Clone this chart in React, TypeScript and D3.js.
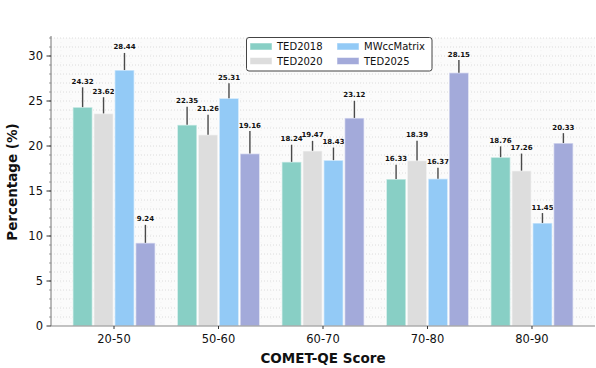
import * as d3 from "d3";

const categories = ["20-50", "50-60", "60-70", "70-80", "80-90"];
const seriesNames = ["TED2018", "TED2020", "MWccMatrix", "TED2025"];
const ted2018 = [24.32, 22.35, 18.24, 16.33, 18.76];
const ted2020 = [23.62, 21.26, 19.47, 18.39, 17.26];
const mwcc = [28.44, 25.31, 18.43, 16.37, 11.45];
const ted2025 = [9.24, 19.16, 23.12, 28.15, 20.33];
// error bar half-lengths (upper only visible)
const err2018 = [2.2, 2.0, 1.9, 1.6, 1.2];
const err2020 = [1.8, 2.2, 1.1, 2.2, 1.9];
const errMwcc = [1.9, 1.65, 1.4, 1.2, 1.1];
const err2025 = [2.0, 2.5, 1.9, 1.4, 1.1];
const yTicks = [0, 5, 10, 15, 20, 25, 30];

const values = [ted2018, ted2020, mwcc, ted2025];
const errors = [err2018, err2020, errMwcc, err2025];
const colors = ["#88cfc5", "#dddddd", "#93caf6", "#a3aada"];

const W = 596;
const H = 368;
const m = { left: 51, right: 595, top: 38, bottom: 326 };
const font = "DejaVu Sans, sans-serif";

export default function App() {
  const x = d3
    .scaleBand()
    .domain(categories)
    .range([m.left, m.right])
    .paddingInner(0)
    .paddingOuter(0.103);
  const xs = d3
    .scaleBand()
    .domain(seriesNames)
    .range([-42.5, 42.5])
    .padding(0.06);
  const y = d3.scaleLinear().domain([0, 32]).range([m.bottom, m.top]);
  const minor = d3.range(1, 33);

  return (
    <svg
      width={W}
      height={H}
      style={{ position: "absolute", left: 0, top: 0, background: "#fff" }}
      fontFamily={font}
    >
      <rect x={m.left} y={m.top} width={m.right - m.left} height={m.bottom - m.top} fill="#fbfbfb" />
      {/* dotted grid */}
      {minor.map((v) => (
        <line
          key={"g" + v}
          x1={m.left}
          x2={m.right}
          y1={y(v)}
          y2={y(v)}
          stroke="#d6d6d6"
          strokeWidth={0.8}
          strokeDasharray="1,2"
        />
      ))}
      {d3.range(m.left + 10, m.right, 10).map((gx) => (
        <line
          key={"v" + gx}
          x1={gx}
          x2={gx}
          y1={m.top}
          y2={m.bottom}
          stroke="#ececec"
          strokeWidth={0.6}
          strokeDasharray="1,3"
        />
      ))}

      {/* bars */}
      {categories.map((c, i) => {
        const cx = (x(c) as number) + x.bandwidth() / 2;
        return seriesNames.map((s, k) => {
          const v = values[k][i];
          const top = v + errors[k][i];
          const bx = cx + (xs(s) as number);
          const bw = xs.bandwidth();
          const mid = bx + bw / 2;
          return (
            <g key={c + s}>
              <rect
                x={bx}
                y={y(v)}
                width={bw}
                height={y(0) - y(v)}
                fill={colors[k]}
                stroke="#ffffff"
                strokeOpacity={0.55}
                strokeWidth={1.5}
              />
              <line x1={mid} x2={mid} y1={y(v)} y2={y(top)} stroke="#4a4a4a" strokeWidth={1.4} />
              <text
                x={mid}
                y={y(top) - 3.5}
                textAnchor="middle"
                fontSize={7}
                fontWeight="bold"
                fill="#111"
              >
                {v.toFixed(2)}
              </text>
            </g>
          );
        });
      })}

      {/* axes */}
      <line x1={m.left} x2={m.left} y1={m.top - 2} y2={m.bottom} stroke="#777" strokeWidth={1} />
      <line x1={m.left} x2={m.right} y1={m.bottom} y2={m.bottom} stroke="#888" strokeWidth={1.2} />
      {minor.map((v) => (
        <line key={"mt" + v} x1={m.left - 2} x2={m.left} y1={y(v)} y2={y(v)} stroke="#777" strokeWidth={0.7} />
      ))}
      {yTicks.map((t) => (
        <g key={"yt" + t}>
          <line x1={m.left - 4.5} x2={m.left} y1={y(t)} y2={y(t)} stroke="#333" strokeWidth={1} />
          <text x={m.left - 8} y={y(t) + 4} textAnchor="end" fontSize={11.5} fill="#111">
            {t}
          </text>
        </g>
      ))}
      {categories.map((c) => {
        const cx = (x(c) as number) + x.bandwidth() / 2;
        return (
          <g key={"xt" + c}>
            <line x1={cx} x2={cx} y1={m.bottom} y2={m.bottom + 3} stroke="#333" strokeWidth={1} />
            <text x={cx} y={343} textAnchor="middle" fontSize={11.5} fill="#111">
              {c}
            </text>
          </g>
        );
      })}

      <text x={(m.left + m.right) / 2} y={363} textAnchor="middle" fontSize={13.5} fontWeight="bold" fill="#111">
        COMET-QE Score
      </text>
      <text
        transform={`translate(17,${(m.top + m.bottom) / 2}) rotate(-90)`}
        textAnchor="middle"
        fontSize={13.5}
        fontWeight="bold"
        fill="#111"
      >
        Percentage (%)
      </text>

      {/* legend */}
      <g>
        <rect x={246.5} y={37.5} width={185.5} height={33.5} rx={2.5} fill="#fff" stroke="#444" strokeWidth={1} />
        {seriesNames.map((s, k) => {
          const col = Math.floor(k / 2);
          const row = k % 2;
          const lx = col === 0 ? 250 : 337;
          const ly = row === 0 ? 46.5 : 61;
          return (
            <g key={"lg" + s}>
              <rect x={lx} y={ly - 3.5} width={22} height={7} fill={colors[k]} stroke="#fff" strokeOpacity={0.5} />
              <text x={lx + 27} y={ly + 3.6} fontSize={10} fill="#111">
                {s}
              </text>
            </g>
          );
        })}
      </g>
    </svg>
  );
}
